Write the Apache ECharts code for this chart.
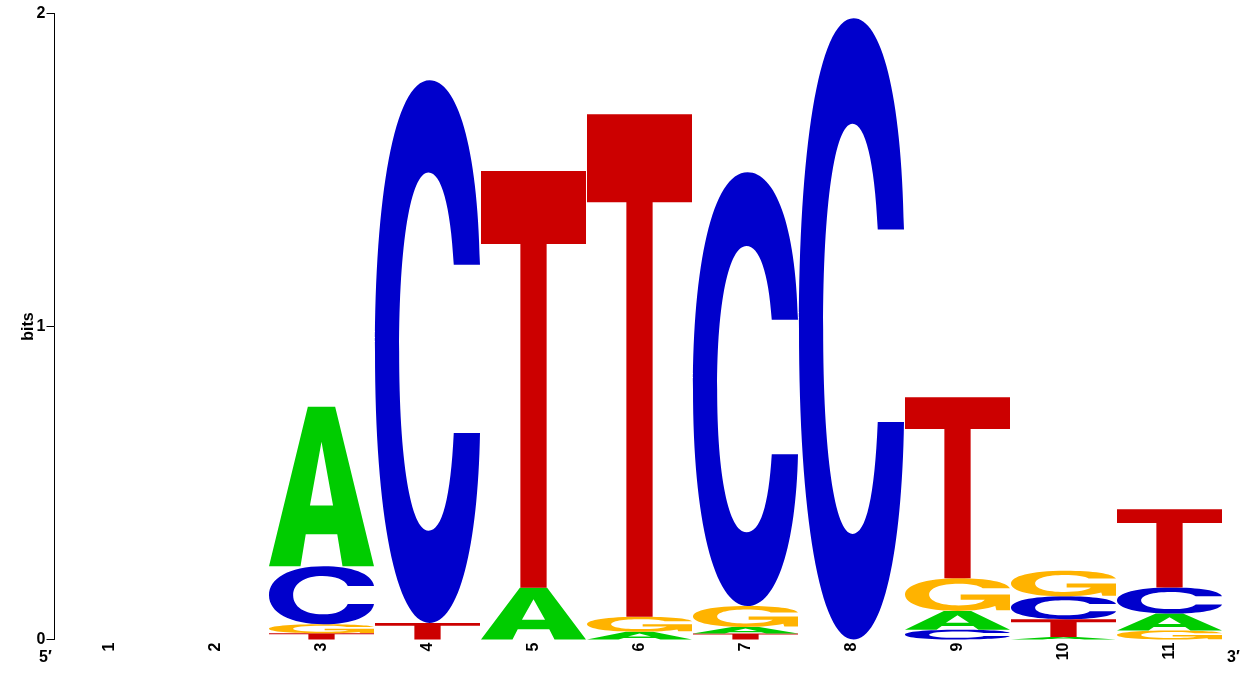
<!DOCTYPE html>
<html>
<head>
<meta charset="utf-8">
<script src="https://cdn.jsdelivr.net/npm/echarts@6/dist/echarts.min.js"></script>
<style>
html,body{margin:0;padding:0;background:#fff;}
#main{width:1247px;height:680px;}
</style>
</head>
<body>
<div id="main"></div>
<script>
// positions 1..11, information content (bits) per base
var positions=['1','2','3','4','5','6','7','8','9','10','11'];
var bitsA=[0,0,0.51,0,0.165,0.025,0.021,0,0.06,0.008,0.054];
var bitsC=[0,0,0.185,1.734,0,0,1.386,1.985,0.031,0.073,0.083];
var bitsG=[0,0,0.029,0,0,0.048,0.067,0,0.105,0.082,0.029];
var bitsT=[0,0,0.02,0.053,1.332,1.605,0.019,0,0.578,0.057,0.25];
var yTicks=[0,1,2];

var letters=['A','C','G','T'];
var colors={A:'#00cc00',C:'#0000cc',G:'#ffb300',T:'#cc0000'};
// glyph outlines in a 100x100 box, stretched to each stack cell
var glyphs={
	A:'M0,100 L37,0 L63,0 L100,100 L70,100 L65,80 L35,80 L30,100 Z M50,22 L39,62 L61,62 Z',
	C:'M100,34 C98,12 78,0 52,0 C18,0 0,22 0,50 C0,80 20,100 52,100 C80,100 98,86 100,65 L75,65 C72,77 64,83 51,83 C34,83 23,70 23,50 C23,30 34,17 51,17 C63,17 72,23 75,34 Z',
	G:'M100,31 C97,11 78,0 52,0 C18,0 0,22 0,50 C0,80 20,100 50,100 C66,100 78,94 86,85 L87,98 L100,98 L100,50 L53,50 L53,66 L76,66 C73,77 64,83 51,83 C34,83 23,70 23,50 C23,30 34,17 51,17 C62,17 71,22 74,31 Z',
	T:'M0,0 L100,0 L100,17.5 L62.5,17.5 L62.5,100 L37.5,100 L37.5,17.5 L0,17.5 Z'
};

// build stacks: smallest at the bottom
var stackData=[];
for(var i=0;i<positions.length;i++){
	var col=[
		{l:'A',v:bitsA[i]},
		{l:'C',v:bitsC[i]},
		{l:'G',v:bitsG[i]},
		{l:'T',v:bitsT[i]}
	];
	col.sort(function(a,b){return a.v-b.v;});
	var base=0;
	for(var k=0;k<col.length;k++){
		if(col[k].v>0){
			stackData.push([i,base,base+col[k].v,letters.indexOf(col[k].l)]);
			base+=col[k].v;
		}
	}
}

function renderLetter(params,api){
	var x=api.value(0);
	var p0=api.coord([x,api.value(1)]);
	var p1=api.coord([x,api.value(2)]);
	var w=api.size([1,0])[0]-1;
	var l=letters[api.value(3)];
	return {
		type:'path',
		shape:{
			pathData:glyphs[l],
			layout:'cover',
			x:p0[0]-w/2,
			y:p1[1],
			width:w,
			height:Math.max(p0[1]-p1[1],0.5)
		},
		style:{fill:colors[l]}
	};
}

var font='Liberation Sans';
var myChart=echarts.init(document.getElementById('main'));
var option={
	animation:false,
	grid:{left:56.5,right:24.5,top:13.5,bottom:40.5},
	xAxis:{
		type:'category',
		data:positions,
		boundaryGap:true,
		axisLine:{show:false},
		axisTick:{show:false},
		axisLabel:{rotate:90,margin:3,fontSize:16,fontWeight:'bold',color:'#000',fontFamily:font}
	},
	yAxis:{
		type:'value',
		min:yTicks[0],
		max:yTicks[yTicks.length-1],
		interval:1,
		offset:2,
		name:'bits',
		nameLocation:'middle',
		nameGap:18,
		nameMoveOverlap:false,
		nameTextStyle:{fontSize:16,fontWeight:'bold',color:'#000',fontFamily:font},
		axisLine:{show:true,lineStyle:{color:'#000',width:1}},
		axisTick:{show:true,inside:false,length:8,lineStyle:{color:'#000',width:1}},
		axisLabel:{margin:9,fontSize:16,fontWeight:'bold',color:'#000',fontFamily:font},
		splitLine:{show:false}
	},
	graphic:[
		{type:'text',left:39,top:650,style:{text:'5\u2032',fontSize:16,fontWeight:'bold',fill:'#000',fontFamily:font}},
		{type:'text',left:1227,top:650,style:{text:'3\u2032',fontSize:16,fontWeight:'bold',fill:'#000',fontFamily:font}}
	],
	series:[{
		type:'custom',
		renderItem:renderLetter,
		encode:{x:0,y:[1,2]},
		data:stackData
	}]
};
myChart.setOption(option);
</script>
</body>
</html>
